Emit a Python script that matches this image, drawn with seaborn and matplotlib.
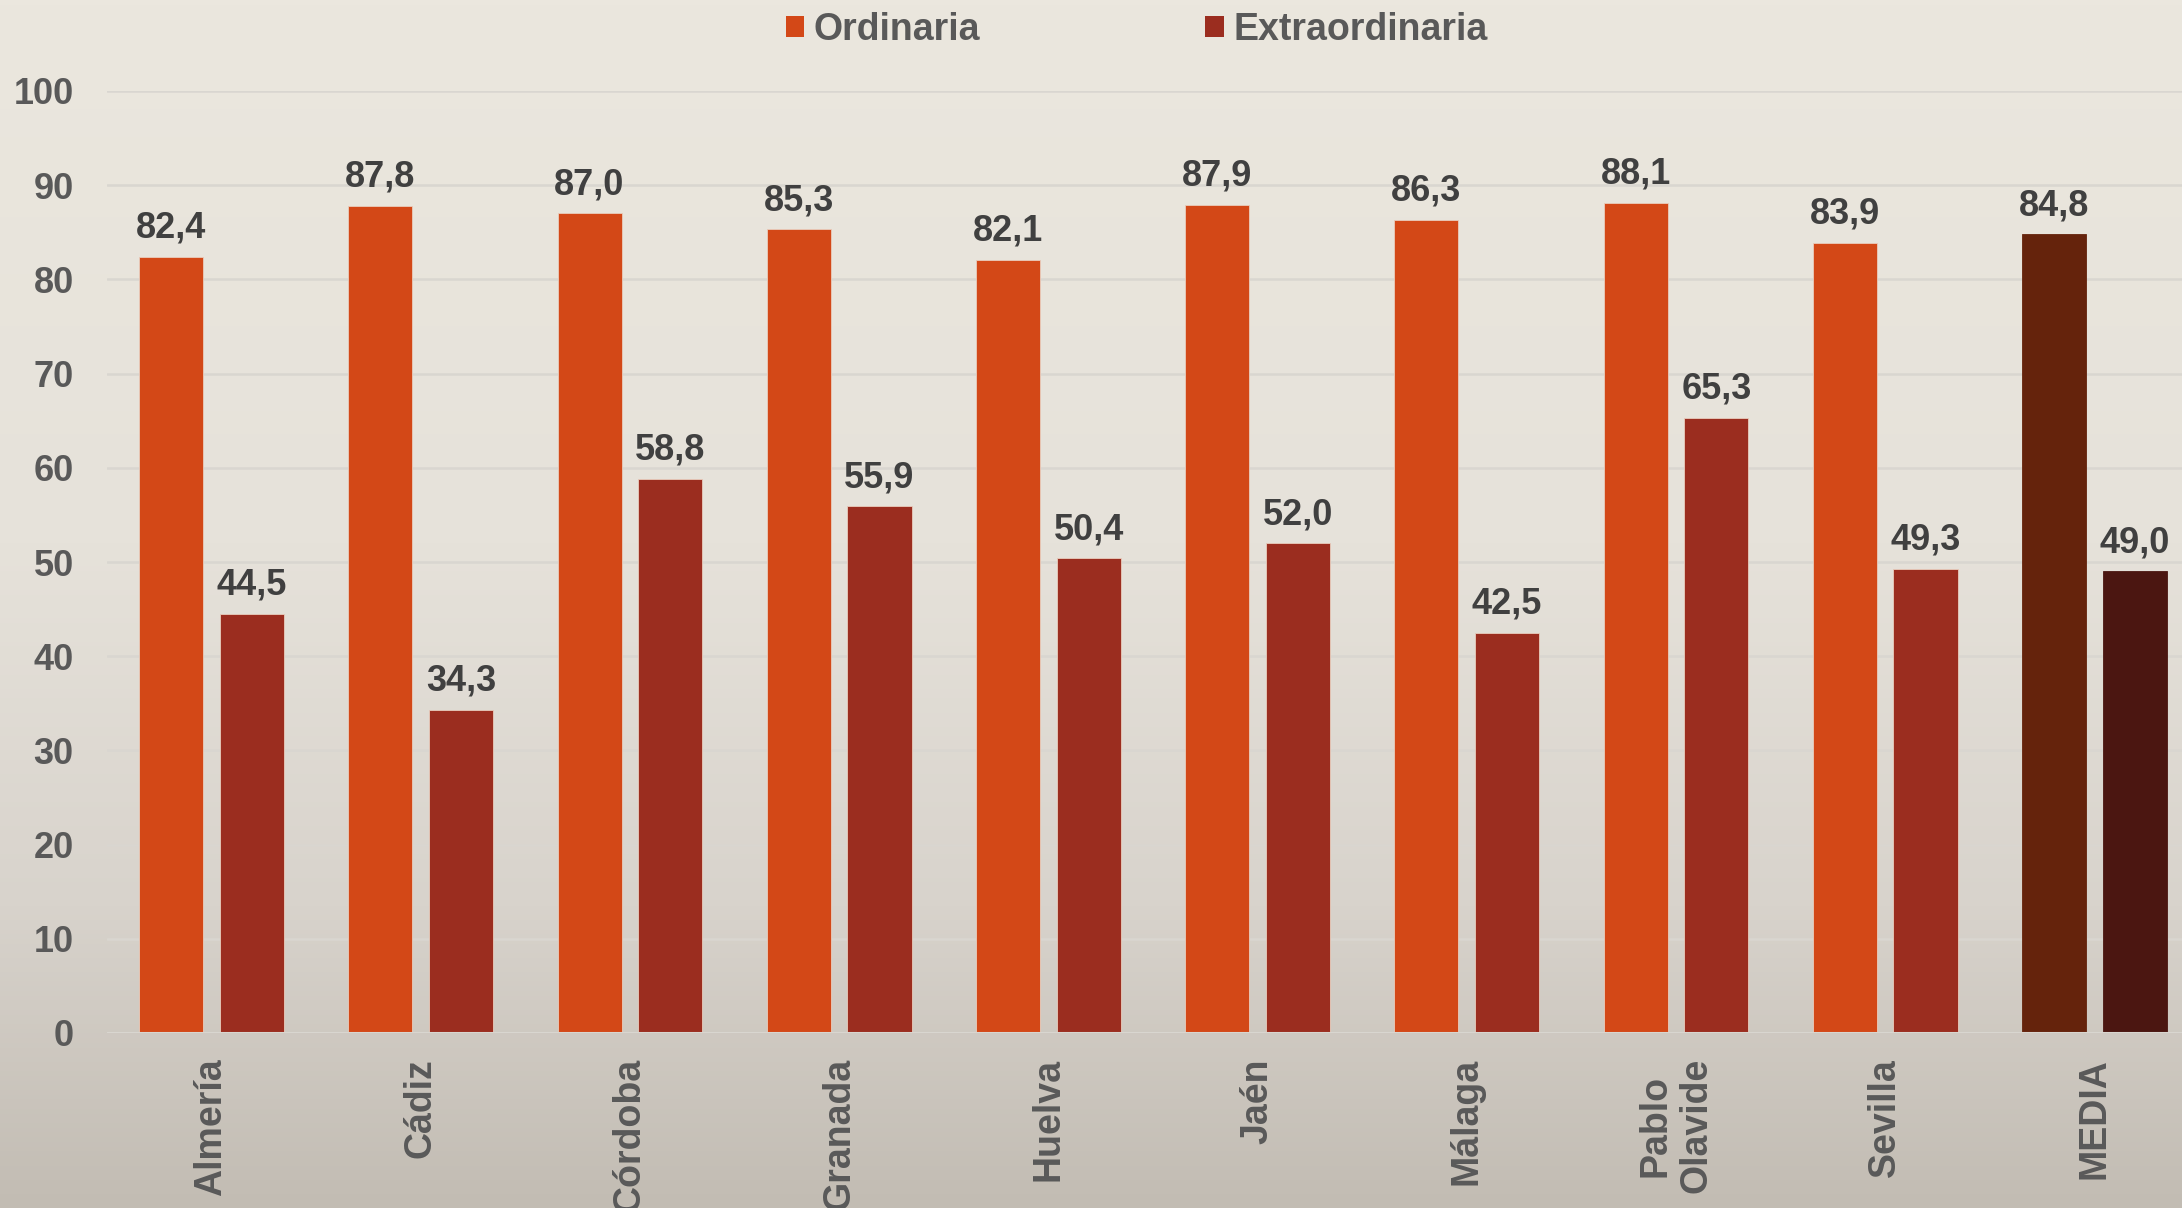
import numpy as np
import pandas as pd
import matplotlib
matplotlib.use("Agg")
import matplotlib.pyplot as plt
from matplotlib.colors import LinearSegmentedColormap
import seaborn as sns

# ---- data ----
universidades = ["Almería", "Cádiz", "Córdoba", "Granada", "Huelva", "Jaén",
                 "Málaga", "Pablo\nOlavide", "Sevilla", "MEDIA"]
ordinaria = [82.4, 87.8, 87.0, 85.3, 82.1, 87.9, 86.3, 88.1, 83.9, 84.8]
extraordinaria = [44.5, 34.3, 58.8, 55.9, 50.4, 52.0, 42.5, 65.3, 49.3, 49.0]
series_names = ["Ordinaria", "Extraordinaria"]
y_ticks = [0, 10, 20, 30, 40, 50, 60, 70, 80, 90, 100]

# ---- style ----
col_ord = "#D34817"
col_ext = "#9B2D1F"
col_media_ord = "#65230C"
col_media_ext = "#4B1611"
text_dark = "#404040"
text_grey = "#595959"
grid_col = "#D9D6D0"

sns.set_theme(style="white")
plt.rcParams["font.family"] = ["Liberation Sans", "DejaVu Sans"]
plt.rcParams["font.weight"] = "bold"

df = pd.DataFrame({
    "Universidad": universidades * 2,
    "Valor": ordinaria + extraordinaria,
    "Convocatoria": [series_names[0]] * len(universidades) + [series_names[1]] * len(universidades),
})

W, H = 2182, 1208
fig = plt.figure(figsize=(W / 100, H / 100), dpi=100)

# background gradient
bg = fig.add_axes([0, 0, 1, 1], zorder=-10)
cmap = LinearSegmentedColormap.from_list(
    "bg", [(0.0, "#EBE7DE"), (0.45, "#E6E2DA"), (0.75, "#D8D3CC"), (1.0, "#C2BCB3")])
grad = np.linspace(0, 1, 256).reshape(-1, 1)
bg.imshow(grad, aspect="auto", cmap=cmap, extent=[0, 1, 0, 1], origin="upper")
bg.set_axis_off()

left = 107 / W
bottom = 1 - 1033 / H
top = 1 - 91 / H
ax = fig.add_axes([left, bottom, 1 - left, top - bottom])
ax.set_facecolor("none")

sns.barplot(data=df, x="Universidad", y="Valor", hue="Convocatoria",
            palette=[col_ord, col_ext], saturation=1, width=0.772, gap=0.207,
            edgecolor="#E9CDBD", linewidth=0.6, ax=ax, zorder=3)

handles, labels = ax.get_legend_handles_labels()
if ax.get_legend() is not None:
    ax.get_legend().remove()

# MEDIA group colours
conts = ax.containers
conts[0].patches[-1].set_facecolor(col_media_ord)
conts[0].patches[-1].set_edgecolor(col_media_ord)
conts[1].patches[-1].set_facecolor(col_media_ext)
conts[1].patches[-1].set_edgecolor(col_media_ext)

# value labels
for cont, vals in zip(conts, [ordinaria, extraordinaria]):
    ax.bar_label(cont, labels=[f"{v:.1f}".replace(".", ",") for v in vals],
                 padding=8, fontsize=26, fontweight="bold", color=text_dark)

ax.set_ylim(0, 100)
ax.set_xlim(-0.4995, 9.419)
ax.set_yticks(y_ticks)
ax.set_yticklabels([str(t) for t in y_ticks])
ax.yaxis.grid(True, color=grid_col, linewidth=1.8, zorder=0)
ax.set_axisbelow(True)
for s in ax.spines.values():
    s.set_visible(False)
ax.axhline(0, color=grid_col, linewidth=2.2, zorder=4)

ax.tick_params(axis="y", length=0, pad=24, labelsize=26, labelcolor=text_grey)
ax.tick_params(axis="x", length=0, pad=18, labelsize=27, labelcolor=text_grey)
for lab in ax.get_yticklabels():
    lab.set_fontweight("bold")
for lab in ax.get_xticklabels():
    lab.set_rotation(90)
    lab.set_fontweight("bold")
    lab.set_ha("center")
    lab.set_va("top")
    lab.set_multialignment("center")
ax.set_xlabel("")
ax.set_ylabel("")

leg = fig.legend(handles, series_names, loc="center", bbox_to_anchor=(1136.5 / W, 1 - 30 / H),
                 ncol=2, frameon=False, fontsize=27, handlelength=0.5, handleheight=0.5,
                 handletextpad=0.25, columnspacing=6.0, borderpad=0, borderaxespad=0)
for t in leg.get_texts():
    t.set_color(text_grey)
    t.set_fontweight("bold")
for h in leg.legend_handles:
    h.set_edgecolor("none")

fig.savefig("out.png", dpi=100)
